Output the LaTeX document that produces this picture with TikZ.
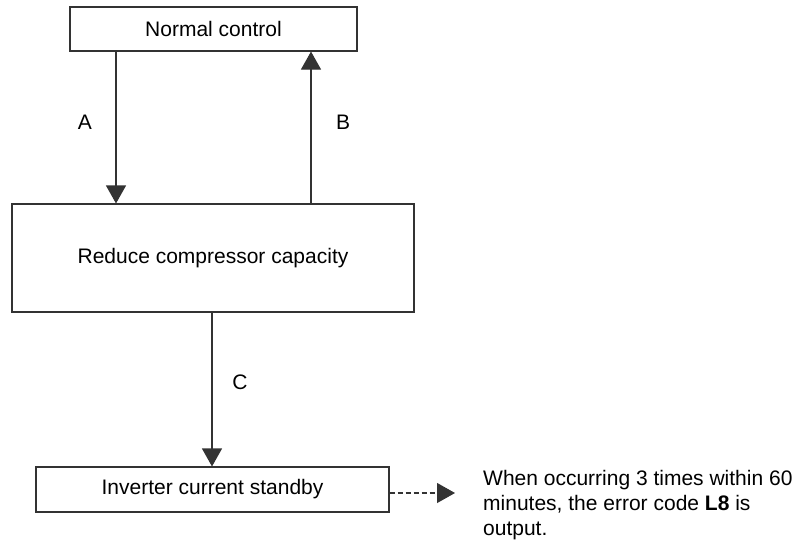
\documentclass[tikz,border=0pt]{standalone}
\usepackage{fontspec}
\setmainfont{Liberation Sans}
\usetikzlibrary{arrows.meta, calc}

\begin{document}
\begin{tikzpicture}[
    x=1pt, y=-1pt,
    >={Triangle[width=20pt, length=18pt]},
    % boxes and labels of the flow
    box_node/.style={rectangle, draw=black!80, line width=1.1pt, inner sep=0pt, font=\fontsize{21}{25}\selectfont},
    lbl/.style={font=\fontsize{21}{25}\selectfont, inner sep=0pt},
    flow/.style={->, draw=black!80, line width=1.1pt}
]
    \useasboundingbox (0,0) rectangle (800,539);

    % --- Boxes ---
    \node[box_node, minimum width=287pt, minimum height=44pt] (normal) at (213.5,29) {Normal control};
    \node[box_node, minimum width=402pt, minimum height=108pt] (reduce) at (213,258) {Reduce compressor capacity};
    \node[box_node, minimum width=353pt, minimum height=45pt] (standby) at (212.5,489.5) {Inverter current standby};

    % --- Note on the right ---
    \node[lbl, anchor=west, align=left] (note) at (483,505)
        {When occurring 3 times within 60\\minutes, the error code \textbf{L8} is\\output.};

    % columns of the arrows
    \coordinate (colA) at (116,0);
    \coordinate (colB) at (311,0);
    \coordinate (colC) at (212,0);
    \coordinate (tipD) at (455,493);

    % --- Arrows ---
    \draw[flow] (normal.south -| colA) -- (reduce.north -| colA);
    \draw[flow] (reduce.north -| colB) -- (normal.south -| colB);
    \draw[flow] (reduce.south -| colC) -- (standby.north -| colC);
    \draw[flow, dash pattern=on 5pt off 3pt] (standby.east |- tipD) -- (tipD);

    % --- Labels ---
    \node[lbl] (lblA) at (85,122) {A};
    \node[lbl] (lblB) at (343,122) {B};
    \node[lbl] (lblC) at (240,382) {C};

\end{tikzpicture}
\end{document}
